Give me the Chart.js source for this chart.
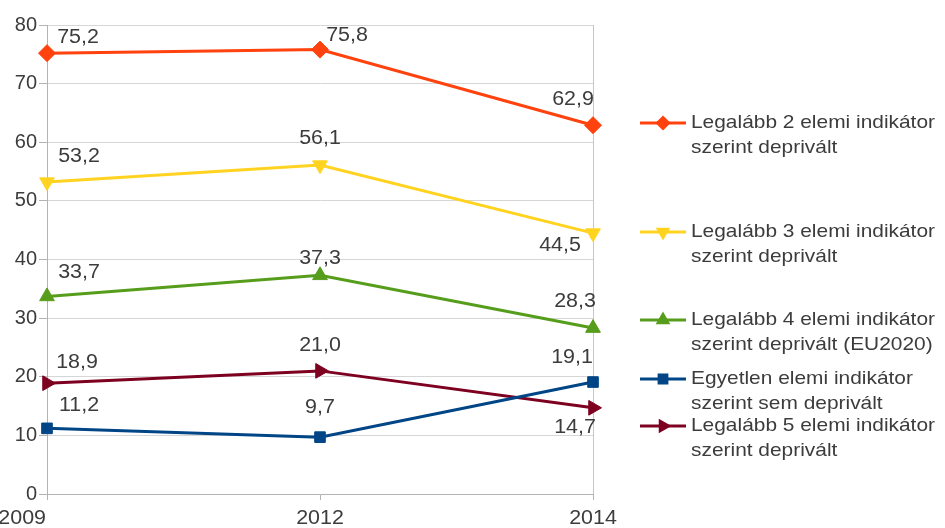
<!DOCTYPE html>
<html>
<head>
<meta charset="utf-8">
<script src="https://cdn.jsdelivr.net/npm/chart.js@4"></script>
<style>
  html, body { margin: 0; padding: 0; background: #fff; }
  #wrap { width: 945px; height: 528px; }
</style>
</head>
<body>
<div id="wrap"><canvas id="chart" width="945" height="528"></canvas></div>
<script>
// years on the x axis
const years = ['2009', '2012', '2014'];

// series values
const atLeast2 = [75.2, 75.8, 62.9];
const atLeast3 = [53.2, 56.1, 44.5];
const atLeast4 = [33.7, 37.3, 28.3];
const noneDeprived = [11.2, 9.7, 19.1];
const atLeast5 = [18.9, 21.0, 14.7];

const seriesNames = [
    ['Legalább 2 elemi indikátor', 'szerint deprivált'],
    ['Legalább 3 elemi indikátor', 'szerint deprivált'],
    ['Legalább 4 elemi indikátor', 'szerint deprivált (EU2020)'],
    ['Egyetlen elemi indikátor', 'szerint sem deprivált'],
    ['Legalább 5 elemi indikátor', 'szerint deprivált']
];

const yTicks = [0, 10, 20, 30, 40, 50, 60, 70, 80];

const FONT = '"Liberation Sans", Arial, sans-serif';
const TEXT = '#3c3c3c';
const STRETCH = 1.1; // the source image is a bit wider than tall

// label offsets from each point (px), purely for placement
const labelOffsets = [
    [[31, -16], [27, -14], [-20, -26]],
    [[32, -25], [0, -26], [-33, 13]],
    [[32, -24], [0, -17], [-18, -26]],
    [[32, -23], [0, -30], [-21, -24]],
    [[30, -21], [0, -25], [-18, 20]]
];

// legend rows (y of first text line) for each series
const legendRows = [123, 232, 320, 379, 426];

function fmt(v) {
    return v.toFixed(1).replace('.', ',');
}

function wideText(ctx, text, x, y) {
    ctx.save();
    ctx.translate(x, y);
    ctx.scale(STRETCH, 1);
    ctx.fillText(text, 0, 0);
    ctx.restore();
}

const dataLabels = {
    id: 'dataLabels',
    afterDatasetsDraw(chart) {
        const ctx = chart.ctx;
        ctx.save();
        ctx.font = '19.5px ' + FONT;
        ctx.fillStyle = TEXT;
        ctx.textAlign = 'center';
        ctx.textBaseline = 'middle';
        chart.data.datasets.forEach((ds, i) => {
            const meta = chart.getDatasetMeta(i);
            meta.data.forEach((pt, j) => {
                const off = labelOffsets[i][j];
                wideText(ctx, fmt(ds.data[j]), pt.x + off[0], pt.y + off[1]);
            });
        });

        // x labels: the first one sits left of its tick, as in the source
        const xs = chart.scales.x;
        ctx.font = '19.5px ' + FONT;
        years.forEach((yr, j) => {
            const px = xs.getPixelForValue(j);
            ctx.textAlign = j === 0 ? 'right' : 'center';
            wideText(ctx, yr, j === 0 ? px - 1 : px, 519);
        });
        ctx.restore();
    }
};

const sideLegend = {
    id: 'sideLegend',
    afterDraw(chart) {
        const ctx = chart.ctx;
        ctx.save();
        chart.data.datasets.forEach((ds, i) => {
            const y = legendRows[i];
            ctx.strokeStyle = ds.borderColor;
            ctx.lineWidth = 3;
            ctx.beginPath();
            ctx.moveTo(640, y);
            ctx.lineTo(686, y);
            ctx.stroke();
            ctx.fillStyle = ds.borderColor;
            Chart.helpers.drawPoint(ctx, {
                pointStyle: ds.pointStyle,
                radius: 5.5,
                rotation: ds.pointRotation || 0,
                borderWidth: 1
            }, 663, y);
            ctx.fillStyle = TEXT;
            ctx.font = '19px ' + FONT;
            ctx.textAlign = 'left';
            ctx.textBaseline = 'middle';
            seriesNames[i].forEach((line, k) => {
                wideText(ctx, line, 691, y + k * 25);
            });
        });
        ctx.restore();
    }
};

function series(label, data, color, style, rotation) {
    return {
        label: label,
        data: data,
        borderColor: color,
        backgroundColor: color,
        borderWidth: 3,
        pointStyle: style,
        pointRotation: rotation,
        pointRadius: style === 'rect' ? 7.5 : 8.5,
        pointBorderWidth: 1,
        tension: 0
    };
}

new Chart(document.getElementById('chart'), {
    type: 'line',
    data: {
        labels: years,
        datasets: [
            series(seriesNames[0].join(' '), atLeast2, '#ff420e', 'rectRot', 0),
            series(seriesNames[1].join(' '), atLeast3, '#ffd320', 'triangle', 180),
            series(seriesNames[2].join(' '), atLeast4, '#579d1c', 'triangle', 0),
            series(seriesNames[3].join(' '), noneDeprived, '#004586', 'rect', 0),
            series(seriesNames[4].join(' '), atLeast5, '#7e0021', 'triangle', 90)
        ]
    },
    options: {
        responsive: false,
        animation: false,
        layout: { padding: { top: 25, right: 352, left: 0, bottom: 0 } },
        plugins: {
            legend: { display: false },
            tooltip: { enabled: false }
        },
        scales: {
            x: {
                offset: false,
                afterFit(scale) { scale.height = 34; },
                grid: {
                    color: c => c.index === 1 ? 'rgba(0,0,0,0)' : '#c6c6c6',
                    tickColor: '#b3b3b3',
                    tickLength: 6,
                    drawTicks: true
                },
                border: { color: '#b3b3b3' },
                ticks: { display: false }
            },
            y: {
                min: 0,
                max: 80,
                afterFit(scale) { scale.width = 47; },
                afterBuildTicks(scale) {
                    scale.ticks = yTicks.map(v => ({ value: v }));
                },
                grid: {
                    color: '#d6d6d6',
                    tickColor: '#b3b3b3',
                    tickLength: 8
                },
                border: { color: '#b3b3b3' },
                ticks: {
                    font: { family: FONT, size: 20 },
                    color: TEXT,
                    padding: 2
                }
            }
        }
    },
    plugins: [dataLabels, sideLegend]
});
</script>
</body>
</html>
